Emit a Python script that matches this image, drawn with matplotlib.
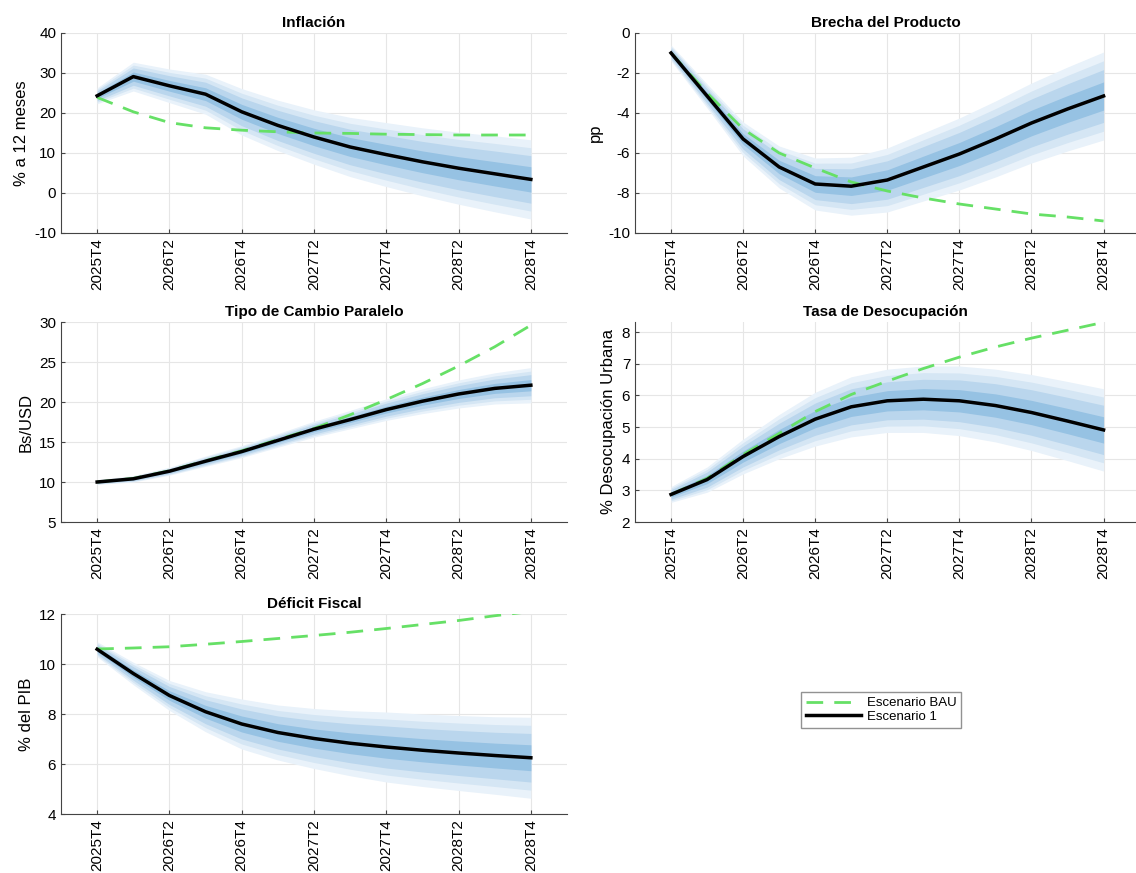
import numpy as np
import matplotlib
matplotlib.use("Agg")
import matplotlib.pyplot as plt

plt.rcParams['font.family'] = ['Liberation Sans', 'DejaVu Sans']
plt.rcParams['axes.unicode_minus'] = False

# trimestres 2025T4 .. 2028T4
trimestres = ["2025T4", "2026T1", "2026T2", "2026T3", "2026T4",
              "2027T1", "2027T2", "2027T3", "2027T4",
              "2028T1", "2028T2", "2028T3", "2028T4"]

# Inflación
infl_esc1 = [24.3, 29.1, 26.8, 24.7, 20.3, 16.9, 14.0, 11.5, 9.6, 7.8, 6.2, 4.8, 3.4]
infl_bau = [23.9, 20.3, 17.6, 16.3, 15.7, 15.3, 15.0, 14.9, 14.7, 14.6, 14.5, 14.5, 14.5]
infl_ancho = [2.0, 3.6, 4.2, 5.0, 5.8, 6.3, 6.8, 7.4, 8.0, 8.5, 9.0, 9.5, 9.9]

# Brecha del producto
brecha_esc1 = [-1.0, -3.15, -5.3, -6.7, -7.55, -7.66, -7.35, -6.7, -6.05, -5.3, -4.5, -3.8, -3.15]
brecha_bau = [-1.0, -3.0, -4.8, -6.0, -6.75, -7.45, -7.9, -8.25, -8.55, -8.8, -9.05, -9.2, -9.4]
brecha_ancho = [0.4, 0.6, 0.85, 1.05, 1.3, 1.45, 1.6, 1.7, 1.8, 1.9, 2.0, 2.1, 2.2]

# Tipo de cambio paralelo
tc_esc1 = [10.0, 10.4, 11.35, 12.6, 13.8, 15.2, 16.6, 17.8, 19.05, 20.1, 21.0, 21.7, 22.1]
tc_bau = [10.0, 10.45, 11.4, 12.65, 13.9, 15.3, 16.7, 18.4, 20.3, 22.3, 24.5, 26.9, 29.6]
tc_ancho = [0.3, 0.4, 0.5, 0.65, 0.75, 0.85, 1.0, 1.15, 1.35, 1.55, 1.75, 1.95, 2.2]

# Tasa de desocupación
desoc_esc1 = [2.87, 3.34, 4.07, 4.70, 5.25, 5.64, 5.83, 5.88, 5.83, 5.68, 5.46, 5.19, 4.91]
desoc_bau = [2.87, 3.38, 4.13, 4.80, 5.49, 6.03, 6.45, 6.85, 7.21, 7.53, 7.81, 8.06, 8.31]
desoc_ancho = [0.25, 0.4, 0.55, 0.7, 0.85, 0.95, 1.0, 1.05, 1.1, 1.15, 1.2, 1.25, 1.3]

# Déficit fiscal
def_esc1 = [10.59, 9.62, 8.74, 8.09, 7.6, 7.26, 7.02, 6.83, 6.68, 6.55, 6.44, 6.34, 6.25]
def_bau = [10.6, 10.64, 10.69, 10.79, 10.9, 11.02, 11.14, 11.27, 11.42, 11.58, 11.74, 11.93, 12.1]
def_ancho = [0.3, 0.45, 0.6, 0.8, 1.0, 1.1, 1.2, 1.3, 1.4, 1.45, 1.5, 1.55, 1.62]

# fraccion del ancho total de cada banda (de la mas externa a la interna)
fracciones = [1.0, 0.8, 0.6, 0.32]
colores_banda = ['#e9f2fa', '#d5e6f4', '#bad6ed', '#96c2e3']

paneles = [
    ("Inflación", "% a 12 meses", infl_esc1, infl_bau, infl_ancho, (-10, 40), np.arange(-10, 41, 10)),
    ("Brecha del Producto", "pp", brecha_esc1, brecha_bau, brecha_ancho, (-10, 0), np.arange(-10, 1, 2)),
    ("Tipo de Cambio Paralelo", "Bs/USD", tc_esc1, tc_bau, tc_ancho, (5, 30), np.arange(5, 31, 5)),
    ("Tasa de Desocupación", "% Desocupación Urbana", desoc_esc1, desoc_bau, desoc_ancho, (2, 8.32), np.arange(2, 9, 1)),
    ("Déficit Fiscal", "% del PIB", def_esc1, def_bau, def_ancho, (4, 12), np.arange(4, 13, 2)),
]

W, H = 1136, 873
fig = plt.figure(figsize=(W / 100, H / 100), dpi=100)

# posiciones en pixeles: (izq, arriba, ancho, alto)
cajas = [(61, 33, 506, 200), (635, 33, 501, 200),
         (61, 322, 506, 200), (635, 322, 501, 200),
         (61, 614, 506, 200)]

x = np.arange(len(trimestres))
ticks = x[::2]

for i, (titulo, ylab, esc1, bau, ancho, ylim, yticks) in enumerate(paneles):
    l, t, w, h = cajas[i]
    ax = fig.add_axes([l / W, 1 - (t + h) / H, w / W, h / H])
    esc1 = np.array(esc1)
    ancho = np.array(ancho)
    for f, c in zip(fracciones, colores_banda):
        ax.fill_between(x, esc1 - f * ancho, esc1 + f * ancho, color=c, lw=0, zorder=1)
    l_bau, = ax.plot(x, bau, color='#66e066', lw=2, ls=(0, (6, 4)), zorder=3, label="Escenario BAU")
    l_esc, = ax.plot(x, esc1, color='black', lw=2.5, zorder=4, label="Escenario 1")
    ax.set_title(titulo, fontsize=11, fontweight='bold', pad=4)
    ax.set_ylabel(ylab, fontsize=12)
    ax.set_ylim(*ylim)
    ax.set_yticks(yticks)
    ax.set_xlim(-1, 13 if i % 2 == 0 else 12.9)
    ax.set_xticks(ticks)
    ax.set_xticklabels([trimestres[k] for k in ticks], rotation=90)
    ax.tick_params(direction='in', labelsize=11, length=3, color='#444444')
    ax.grid(True, color='#e6e6e6', lw=0.8)
    ax.set_axisbelow(True)
    for s in ['top', 'right']:
        ax.spines[s].set_visible(False)
    for s in ['left', 'bottom']:
        ax.spines[s].set_color('#444444')
        ax.spines[s].set_linewidth(0.8)

fig.legend(handles=[l_bau, l_esc], loc='center', bbox_to_anchor=(881 / W, 1 - 710 / H),
           fontsize=9.5, frameon=True, fancybox=False, edgecolor='#777777',
           handlelength=4.2, borderpad=0.35, labelspacing=0.1, handletextpad=0.4,
           borderaxespad=0)

fig.savefig("out.png", dpi=100)
